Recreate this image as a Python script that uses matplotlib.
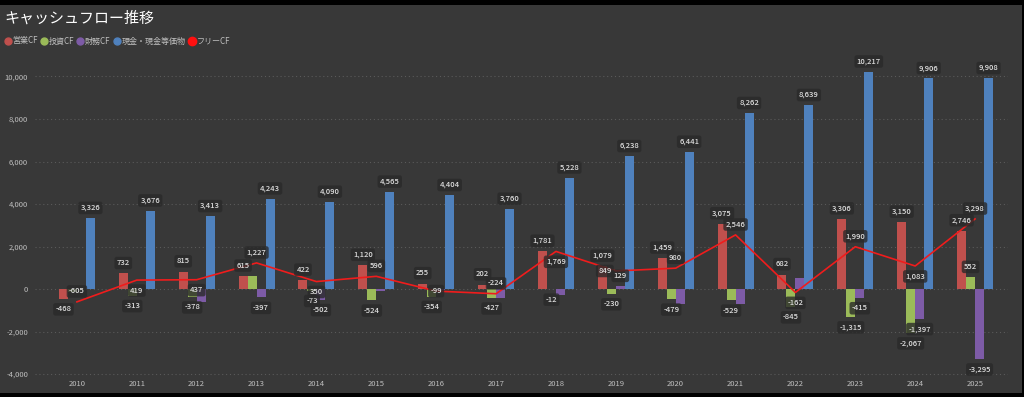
import matplotlib.pyplot as plt
import numpy as np
from matplotlib.lines import Line2D
from matplotlib.patches import Rectangle

plt.rcParams['font.family'] = ['Noto Sans CJK JP', 'DejaVu Sans']

years = [str(y) for y in range(2010, 2026)]
operating_cf = [-468, 732, 815, 615, 422, 1120, 255, 202, 1781, 1079, 1459, 3075, 682, 3306, 3150, 2746]
investing_cf = [-137, -313, -378, 612, -73, -524, -354, -427, -12, -230, -479, -529, -845, -1315, -2067, 552]
financing_cf = [np.nan, np.nan, -600, -397, -502, -90, -50, -400, -280, 129, -690, -700, 520, -415, -1397, -3295]
cash = [3326, 3676, 3413, 4243, 4090, 4565, 4404, 3760, 5228, 6238, 6441, 8262, 8639, 10217, 9906, 9908]
free_cf = [-605, 419, 437, 1227, 350, 596, -99, -224, 1769, 849, 980, 2546, -162, 1990, 1083, 3298]

series_names = ['営業CF', '投資CF', '財務CF', '現金・現金等価物']
colors = ['#c0504d', '#9bbb59', '#7d5ba6', '#4f81bd']
line_color = '#f01c1c'

# ラベルが重なって表示されていないもの
hidden = [set(), {'2010', '2013'}, {'2012', '2015', '2016', '2017', '2018', '2020', '2021', '2022'}, set()]
# フリーCFのラベル位置 (1: 上, -1: 下, 0: 点の上)
fcf_side = [1, -1, -1, 1, -1, 1, 0, 1, -1, 0, 1, 1, -1, 1, -1, 1]
fcf_dx = {'2019': -11}

fig = plt.figure(figsize=(10.24, 3.97), dpi=100, facecolor='black')
fig.patches.append(Rectangle((0, 4 / 397), 1022 / 1024, 388 / 397,
                             transform=fig.transFigure, facecolor='#383838',
                             edgecolor='none', zorder=-10))

ax = fig.add_axes([35 / 1024, (397 - 378.25) / 397, 973 / 1024, (378.25 - 59.5) / 397])
ax.set_facecolor('none')
ax.set_zorder(2)

x = np.arange(len(years))
w = 0.15
box = dict(boxstyle='round,pad=0.3', fc='#2a2a2a', ec='none', alpha=0.8)


def label(xp, yp, dx, dy, text):
    ax.annotate(text, (xp, yp), xytext=(dx, dy), textcoords='offset points',
                ha='center', va='center', fontsize=5.5, color='#dcdcdc',
                fontweight='medium', bbox=box, zorder=5)


all_series = [operating_cf, investing_cf, financing_cf, cash]
for i, vals in enumerate(all_series):
    xs = x + (i - 1.5) * w
    ax.bar(xs, vals, width=w, color=colors[i], zorder=2)
    for xi, v, yr in zip(xs, vals, years):
        if np.isnan(v) or yr in hidden[i]:
            continue
        label(xi, v, 0, 7.5 if v >= 0 else -7.5, f'{v:,.0f}')

ax.plot(x, free_cf, color=line_color, lw=1.2, zorder=3)
for xi, v, s, yr in zip(x, free_cf, fcf_side, years):
    label(xi, v, fcf_dx.get(yr, 0) * 0.72, 7.5 * s if s else 0, f'{v:,.0f}')

ax.set_xlim(-0.70, 15.55)
ax.set_ylim(-4200, 10800)
ax.set_yticks(range(-4000, 10001, 2000))
ax.set_yticklabels([f'{t:,}' for t in range(-4000, 10001, 2000)])
ax.set_xticks(x)
ax.set_xticklabels(years)
ax.tick_params(axis='both', length=0, labelsize=5.5, labelcolor='#bfbfbf')
ax.tick_params(axis='y', pad=5)
ax.tick_params(axis='x', pad=1)
ax.grid(axis='y', color='#5a5a5a', linestyle=(0, (1, 2.5)), lw=0.8, zorder=1)
for sp in ax.spines.values():
    sp.set_visible(False)

fig.text(4 / 1024, 1 - 18 / 397, 'キャッシュフロー推移', fontsize=10.8,
         color='white', va='center', ha='left')

handles = [Line2D([], [], marker='o', ls='none', color=c, markersize=5) for c in colors]
handles.append(Line2D([], [], marker='o', ls='none', color='#ff1010', markersize=6))
fig.legend(handles, series_names + ['フリーCF'], loc='center left',
           bbox_to_anchor=(4 / 1024, 1 - 41 / 397), ncol=5, frameon=False,
           fontsize=5.8, labelcolor='#bfbfbf', handlelength=0.9,
           handletextpad=0.15, columnspacing=0.3, borderpad=0, borderaxespad=0)

fig.savefig('out.png', dpi=100, facecolor=fig.get_facecolor())
